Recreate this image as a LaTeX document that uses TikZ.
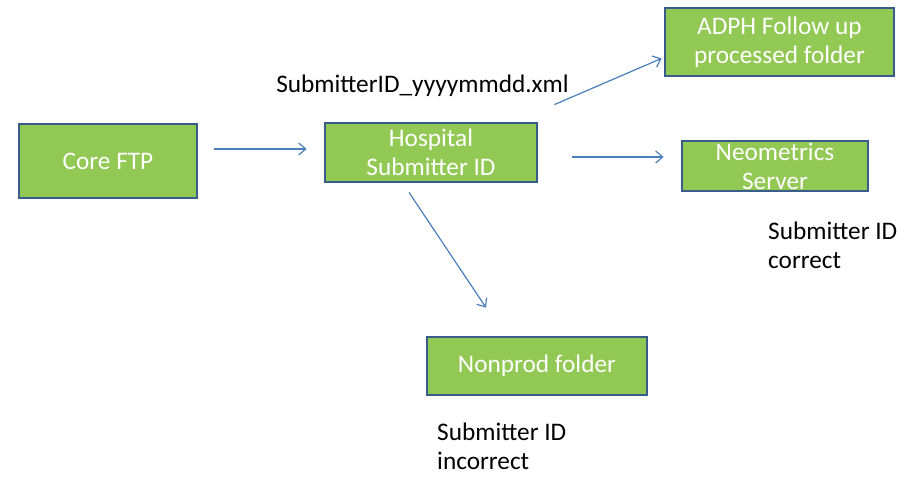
\documentclass[tikz,border=0pt]{standalone}
\usepackage{fontspec}
\setmainfont{Carlito}
\usetikzlibrary{arrows.meta}
\definecolor{boxfill}{RGB}{146,200,84}
\definecolor{boxline}{RGB}{56,93,138}
\definecolor{flowline}{RGB}{74,126,187}
\begin{document}
\begin{tikzpicture}[%
x=1pt, y=-1pt,
font=\fontsize{25.3}{29}\selectfont,
stage/.style={draw=boxline, line width=2.8pt, fill=boxfill, text=white,
  inner sep=0pt, align=center},
flow/.style={draw=flowline, line width=1.2pt, -{Straight Barb[length=7pt,width=12pt]}},
note/.style={text=black, inner sep=0pt, align=left},
]
\useasboundingbox (0,0) rectangle (920,477);
%% boxes;
\node [stage, minimum width=178pt, minimum height=74pt] (coreftp) at (108,161) {Core FTP};
\node [stage, minimum width=212pt, minimum height=59pt] (hospital) at (431,152.5) {Hospital\\Submitter ID};
\node [stage, minimum width=229pt, minimum height=68pt] (adph) at (779.5,42) {ADPH Follow up\\processed folder};
\node [stage, minimum width=186pt, minimum height=50pt] (neometrics) at (775,166) {Neometrics\\Server};
\node [stage, minimum width=220pt, minimum height=58pt] (nonprod) at (537,366) {Nonprod folder};
%% labels;
\node [note] (lblxml) at (422.5,86) {SubmitterID\_yyyymmdd.xml};
\node [note, anchor=west] (lblcorrect) at (768,245) {Submitter ID\\correct};
\node [note, anchor=west] (lblincorrect) at (437,446) {Submitter ID\\incorrect};
%% arrows;
\draw [flow, shorten <=16pt, shorten >=17pt] ([yshift=12pt]coreftp.east) -- ([yshift=3.5pt]hospital.west);
\draw [flow, shorten <=34pt, shorten >=17pt] ([yshift=-4.5pt]hospital.east) -- ([yshift=9pt]neometrics.west);
\draw [flow] ([xshift=16pt,yshift=17pt]hospital.north east) -- ([xshift=-2pt,yshift=19pt]adph.south west);
\draw [flow] ([xshift=-22pt,yshift=-9pt]hospital.south) -- ([xshift=-51pt,yshift=28pt]nonprod.north);
\end{tikzpicture}
\end{document}
